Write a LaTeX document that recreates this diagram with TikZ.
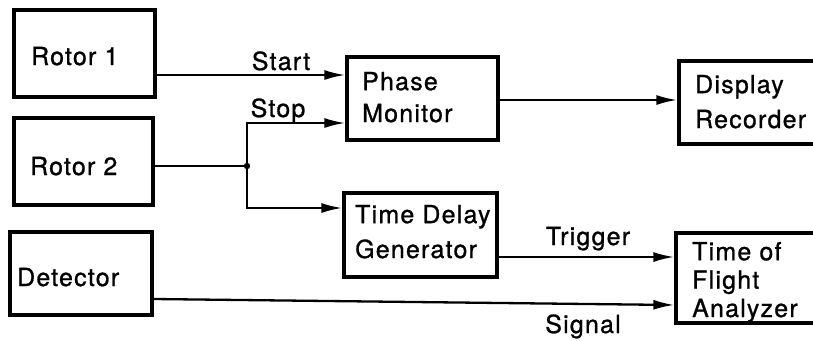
\documentclass[tikz,border=0pt]{standalone}
\usepackage{fontspec}
\setmainfont{TeX Gyre Heros}[LetterSpace=5, FakeBold=1]
\usetikzlibrary{arrows.meta}
\begin{document}
\begin{tikzpicture}[x=1bp,y=-1bp,
  box/.style={draw, rectangle, line width=3.2bp, inner sep=0pt},
  txt/.style={anchor=base west, inner sep=0pt, align=left},
  conn/.style={line width=2.3bp, -{Latex[length=21bp,width=10bp]}},
  wire/.style={line width=2.3bp},
  lbl/.style={anchor=base, inner sep=0pt, font=\fontsize{25}{28}\selectfont}]
\useasboundingbox (0,0) rectangle (813,340);
\clip (0,0) rectangle (813,340);

% blocks
\node[box, minimum width=141bp, minimum height=87bp] (rotor1) at (84.5,53.5) {};
\node[box, minimum width=139bp, minimum height=87bp] (rotor2) at (83.5,161.5) {};
\node[box, minimum width=142bp, minimum height=83bp] (det) at (81,273.5) {};
\node[box, minimum width=151bp, minimum height=83bp] (pm) at (422.5,98.5) {};
\node[box, minimum width=151bp, minimum height=83bp] (dr) at (754.5,102.5) {};
\node[box, minimum width=153bp, minimum height=84bp] (tdg) at (420.5,235) {};
\node[box, minimum width=154bp, minimum height=90bp] (tof) at (753,278) {};

% block captions, placed by the baseline of their last line
\node[txt, font=\fontsize{25}{32}\selectfont] (trotor1) at (31,65) {Rotor 1};
\node[txt, font=\fontsize{25}{32}\selectfont] (trotor2) at (30,175) {Rotor 2};
\node[txt, font=\fontsize{25}{32}\selectfont] (tdet) at (17,286) {Detector};
\node[txt, font=\fontsize{25}{32}\selectfont] (tpm) at (362,122) {Phase\\Monitor};
\node[txt, font=\fontsize{25}{35}\selectfont] (tdr) at (695,128) {Display\\Recorder};
\node[txt, font=\fontsize{25}{35}\selectfont] (ttdg) at (355,258) {Time Delay\\Generator};
\node[txt, font=\fontsize{25}{28.5}\selectfont] (ttof) at (692,317) {Time of\\Flight\\Analyzer};

% branch point of the Rotor 2 line
\coordinate (j) at (247,166);
\coordinate (jt) at (247,123);
\coordinate (jb) at (247,208);

% connectors
\draw[conn] (rotor1.east |- 0,75) -- (pm.west |- 0,75);
\draw[wire] (rotor2.east |- j) -- (j);
\draw[conn] (j) -- (jt) -- (pm.west |- jt);
\draw[conn] (j) -- (jb) -- (tdg.west |- jb);
\fill (j) circle (3.2bp);
\draw[conn] (pm.east |- 0,100) -- (dr.west |- 0,100);
\draw[conn] (tdg.east |- 0,257) -- (tof.west |- 0,257);
\draw[conn] (det.east |- 0,299) -- (tof.west |- 0,305);

% signal labels
\node[lbl] (start) at (281,70) {Start};
\node[lbl] (stop) at (278,117) {Stop};
\node[lbl] (trig) at (588,245) {Trigger};
\node[lbl] (sig) at (583,333) {Signal};
\end{tikzpicture}
\end{document}
